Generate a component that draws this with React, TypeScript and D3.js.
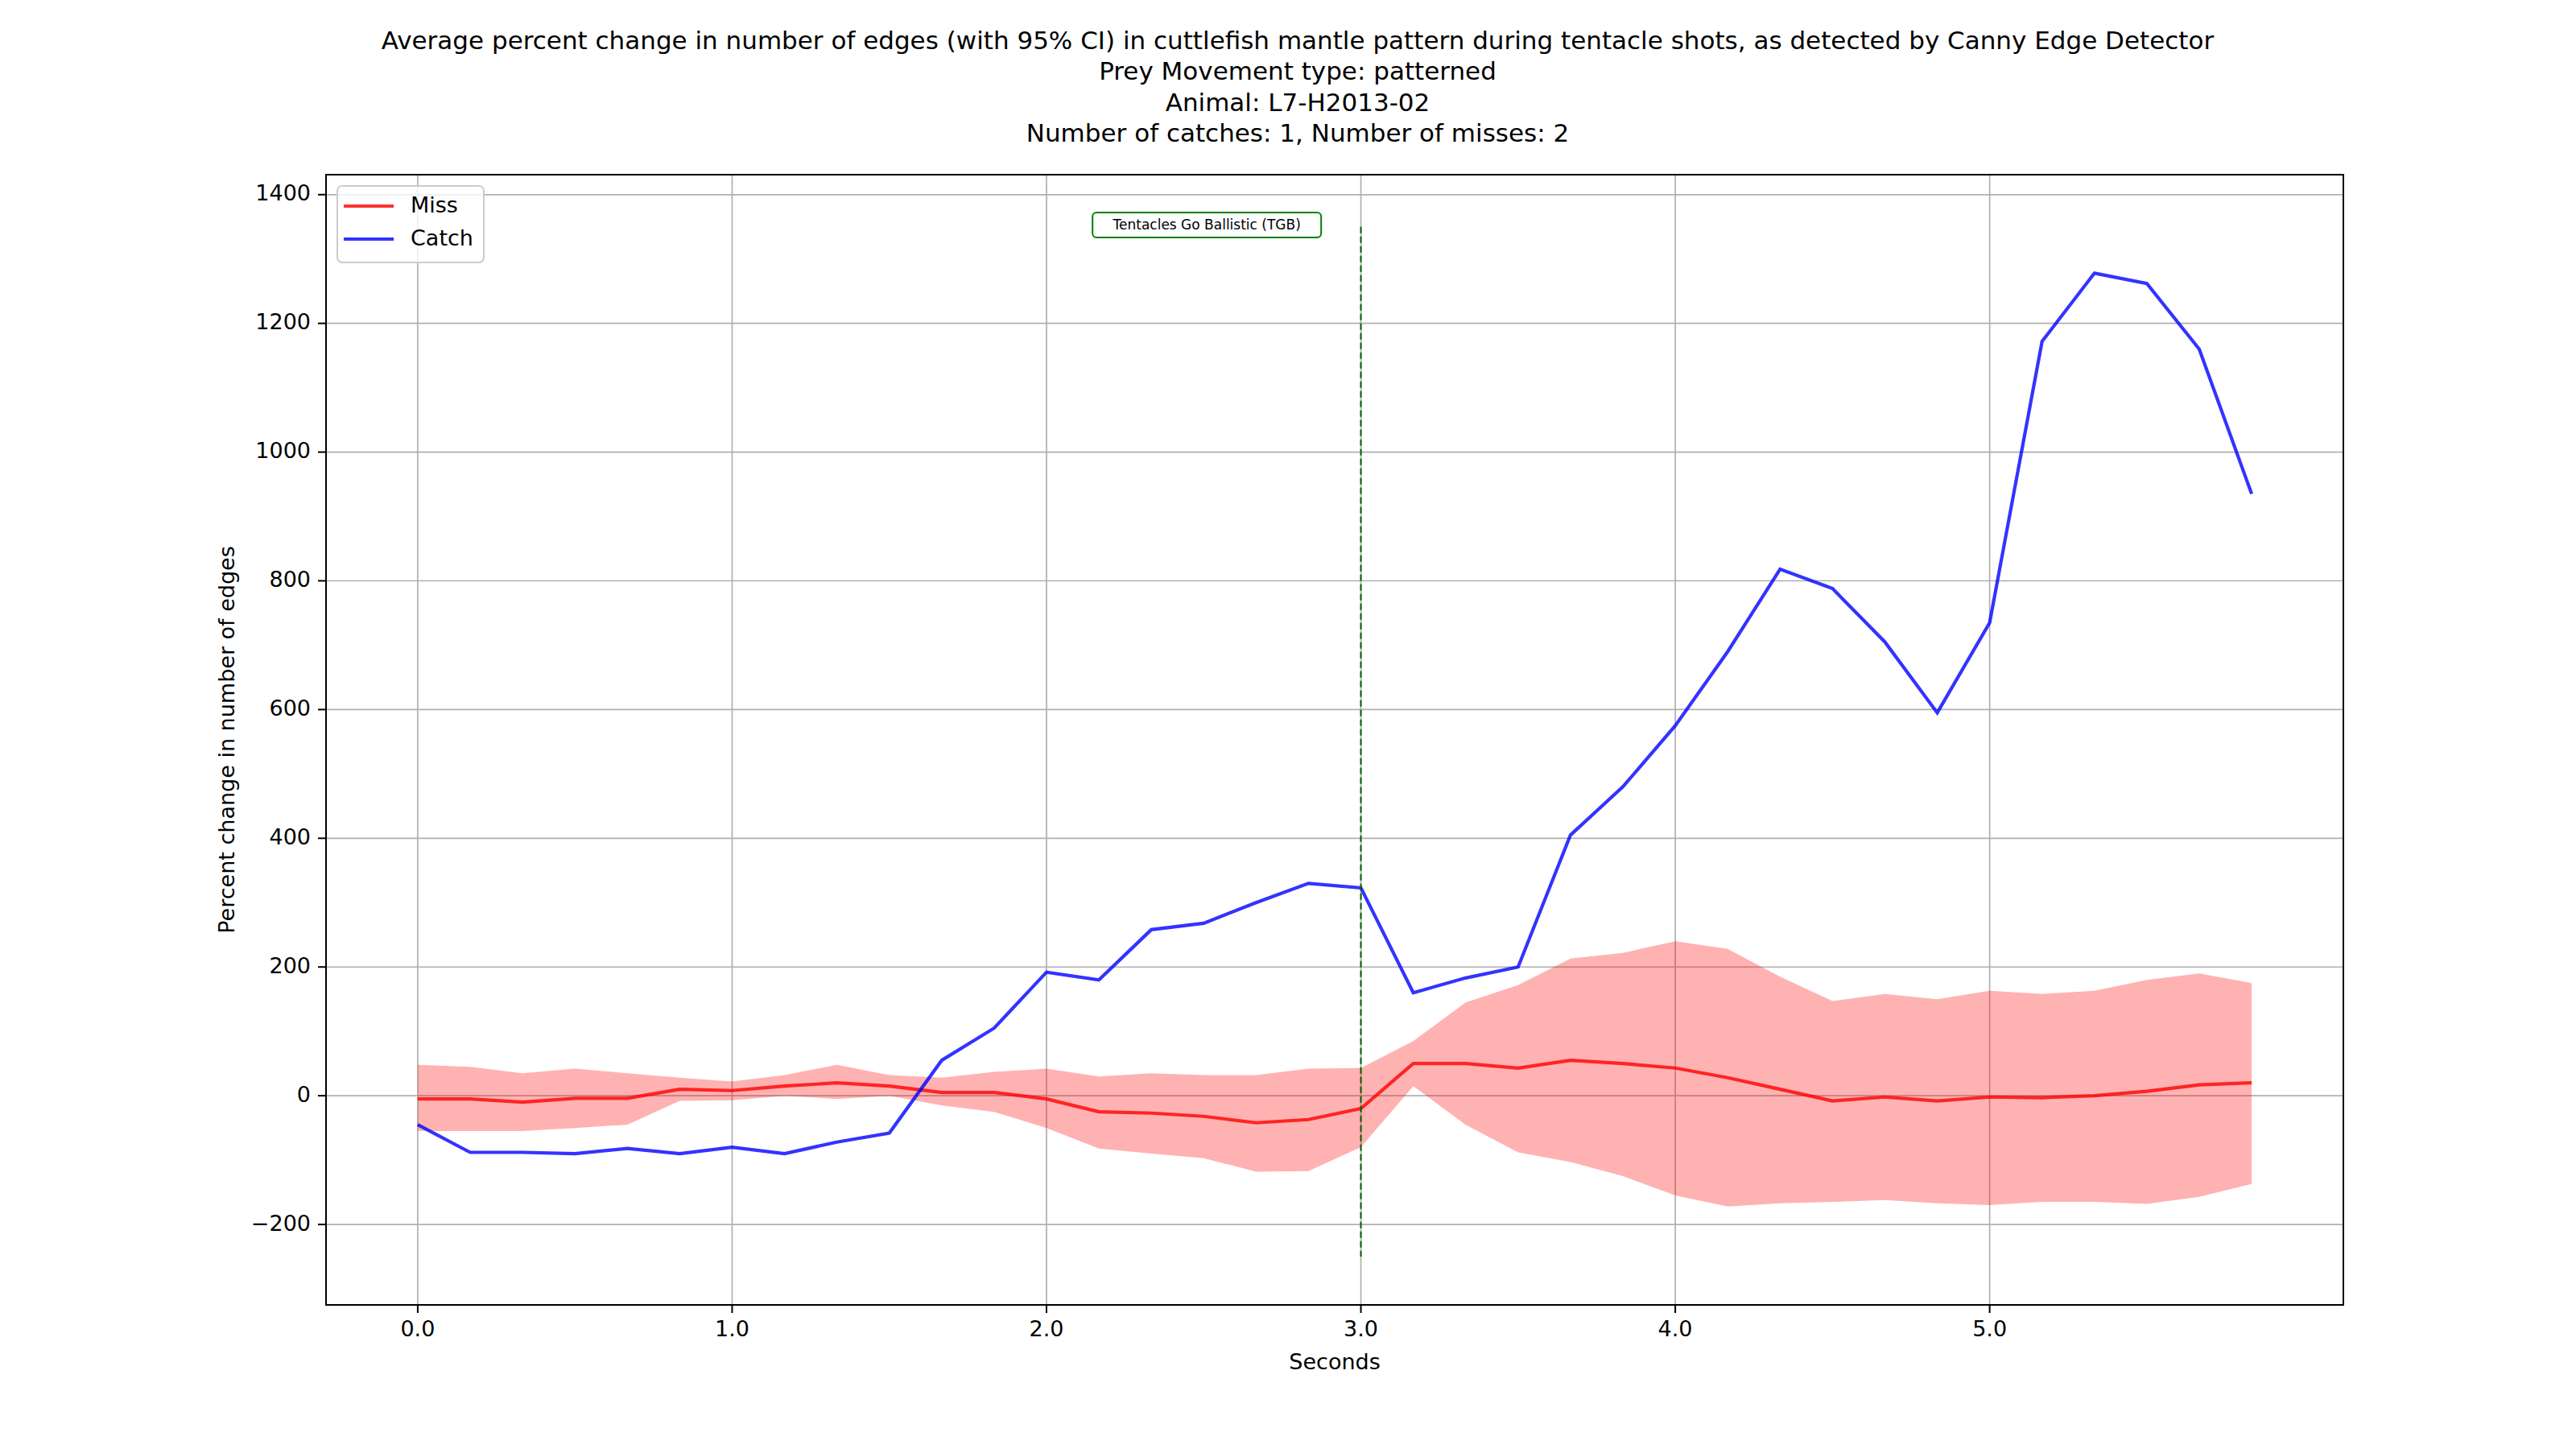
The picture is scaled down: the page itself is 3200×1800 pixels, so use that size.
import React from 'react';
import * as d3 from 'd3';

const titleLines = [
    'Average percent change in number of edges (with 95% CI) in cuttlefish mantle pattern during tentacle shots, as detected by Canny Edge Detector',
    'Prey Movement type: patterned',
    'Animal: L7-H2013-02',
    'Number of catches: 1, Number of misses: 2',
];
const xTicks = [0, 1, 2, 3, 4, 5];
const yTicks = [-200, 0, 200, 400, 600, 800, 1000, 1200, 1400];

const catchValues = [-45, -88, -88, -90, -82, -90, -80, -90, -72, -58, 55, 105, 192, 180, 258, 268, 300, 330, 323, 160, 183, 200, 405, 480, 575, 690, 818, 788, 705, 595, 735, 1172, 1278, 1262, 1160, 935];
const missValues = [-5, -5, -10, -4, -4, 10, 8, 15, 20, 15, 5, 5, -5, -25, -27, -32, -42, -37, -20, 50, 50, 43, 55, 50, 43, 28, 10, -8, -2, -8, -2, -3, 0, 7, 17, 20];
const missUpper = [48, 45, 35, 42, 35, 28, 22, 32, 48, 32, 28, 37, 42, 30, 35, 32, 32, 42, 43, 85, 145, 172, 213, 222, 240, 228, 185, 147, 158, 150, 163, 158, 163, 180, 190, 175];
const missLower = [-55, -55, -55, -50, -45, -8, -7, 0, -5, 0, -15, -25, -50, -82, -90, -97, -118, -117, -80, 15, -45, -88, -103, -125, -155, -172, -167, -165, -162, -167, -170, -165, -165, -168, -157, -137];
const seconds = catchValues.map((_, i) => i / 6);

const W = 3200, H = 1800;
const L = 405, R = 2911, T = 217, B = 1621;
const font = 'DejaVu Sans, sans-serif';

const App = () => {
    const x = d3.scaleLinear().domain([-0.2917, 6.125]).range([L, R]);
    const y = d3.scaleLinear().domain([-325, 1431]).range([B, T]);
    const line = d3.line<number>().x((_, i) => x(seconds[i])).y(d => y(d));
    const area = d3.area<number>().x((_, i) => x(seconds[i])).y0((_, i) => y(missLower[i])).y1(d => y(d));

    return (
        <svg width={W} height={H} style={{ display: 'block', margin: -8 }} fontFamily={font}>
            <rect width={W} height={H} fill="white" />
            {titleLines.map((t, i) => (
                <text key={i} x={1612} y={52 + i * 38.5} fontSize={31} textAnchor="middle" dominantBaseline="middle">{t}</text>
            ))}
            <defs>
                <clipPath id="plot"><rect x={L} y={T} width={R - L} height={B - T} /></clipPath>
            </defs>
            {xTicks.map(t => <line key={t} x1={x(t)} x2={x(t)} y1={T} y2={B} stroke="#b0b0b0" strokeWidth={1.7} />)}
            {yTicks.map(t => <line key={t} x1={L} x2={R} y1={y(t)} y2={y(t)} stroke="#b0b0b0" strokeWidth={1.7} />)}
            <g clipPath="url(#plot)">
                <path d={area(missUpper) || ''} fill="red" fillOpacity={0.3} />
                <path d={line(missValues) || ''} fill="none" stroke="red" strokeOpacity={0.8} strokeWidth={4.2} />
                <path d={line(catchValues) || ''} fill="none" stroke="blue" strokeOpacity={0.8} strokeWidth={4.2} />
                <line x1={x(3)} x2={x(3)} y1={y(1350)} y2={y(-250)} stroke="darkgreen" strokeWidth={2} strokeDasharray="8,4" />
            </g>
            <rect x={x(2.51) - 142} y={264} width={284} height={31} rx={5} fill="white" stroke="green" strokeWidth={2} />
            <text x={x(2.51)} y={280} fontSize={17} textAnchor="middle" dominantBaseline="middle">Tentacles Go Ballistic (TGB)</text>
            <rect x={L} y={T} width={R - L} height={B - T} fill="none" stroke="black" strokeWidth={2} />
            {xTicks.map(t => (
                <g key={t}>
                    <line x1={x(t)} x2={x(t)} y1={B} y2={B + 10} stroke="black" strokeWidth={2} />
                    <text x={x(t)} y={1652} fontSize={27} textAnchor="middle" dominantBaseline="middle">{t.toFixed(1)}</text>
                </g>
            ))}
            {yTicks.map(t => (
                <g key={t}>
                    <line x1={L - 10} x2={L} y1={y(t)} y2={y(t)} stroke="black" strokeWidth={2} />
                    <text x={386} y={y(t)} fontSize={27} textAnchor="end" dominantBaseline="middle">{t === -200 ? '\u2212200' : t}</text>
                </g>
            ))}
            <text x={(L + R) / 2} y={1693} fontSize={27} textAnchor="middle" dominantBaseline="middle">Seconds</text>
            <text transform={`translate(283,${(T + B) / 2}) rotate(-90)`} fontSize={27} textAnchor="middle" dominantBaseline="middle">Percent change in number of edges</text>
            <rect x={419} y={231} width={182} height={95} rx={6} fill="white" fillOpacity={0.8} stroke="#cccccc" strokeWidth={2} />
            <line x1={427} x2={489} y1={256} y2={256} stroke="red" strokeOpacity={0.8} strokeWidth={4.2} />
            <text x={510} y={256} fontSize={27} dominantBaseline="middle">Miss</text>
            <line x1={427} x2={489} y1={297} y2={297} stroke="blue" strokeOpacity={0.8} strokeWidth={4.2} />
            <text x={510} y={297} fontSize={27} dominantBaseline="middle">Catch</text>
        </svg>
    );
};

export default App;
